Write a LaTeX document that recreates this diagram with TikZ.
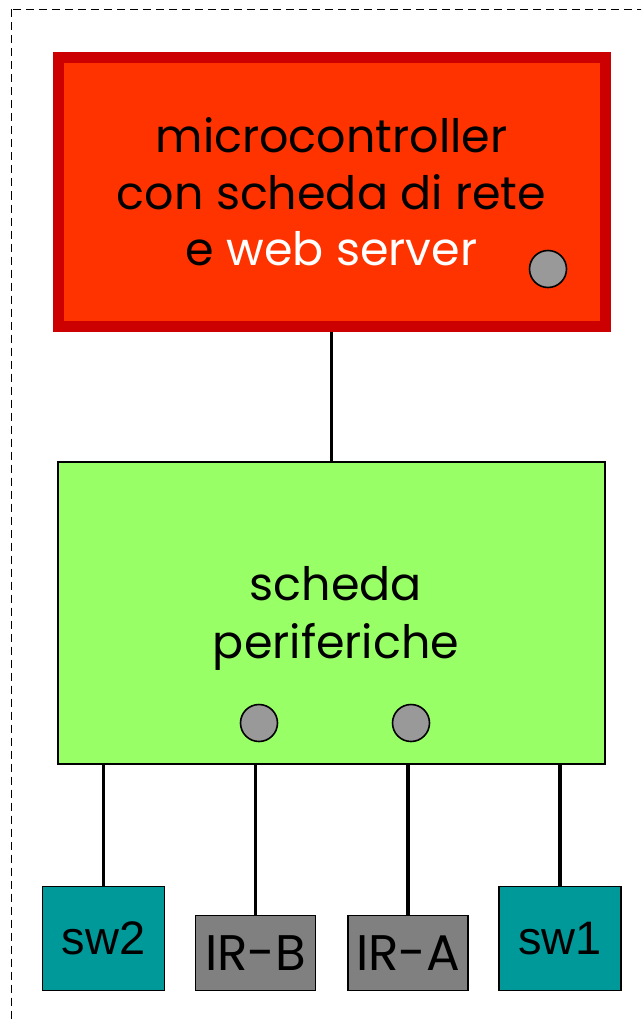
\documentclass[tikz,border=0pt]{standalone}
\usepackage{fontspec}
\setmainfont{Poppins}
\newfontfamily\swfont{Liberation Sans}
\usetikzlibrary{arrows}
\usetikzlibrary{calc}
\definecolor{mcred}{HTML}{FF3300}
\definecolor{mcborder}{HTML}{CC0000}
\definecolor{perigreen}{HTML}{99FF66}
\definecolor{swteal}{HTML}{009999}
\definecolor{irgray}{HTML}{808080}
\definecolor{ledgray}{HTML}{999999}

\begin{document}
\begin{tikzpicture}[x=1pt,y=-1pt,
	mcbox/.style={draw=mcborder,fill=mcred,line width=11pt,minimum width=547pt,minimum height=269pt,inner sep=0pt},
	peribox/.style={draw,fill=perigreen,line width=1.8pt,minimum width=547pt,minimum height=302pt,inner sep=0pt},
	swbox/.style={draw,fill=swteal,line width=1.8pt,minimum width=122pt,minimum height=104pt,inner sep=0pt,font=\swfont\fontsize{47}{47}\selectfont},
	irbox/.style={draw,fill=irgray,line width=1.8pt,minimum width=120pt,minimum height=75pt,inner sep=0pt,font=\fontsize{50}{50}\selectfont},
	led/.style={circle,draw,fill=ledgray,line width=1.6pt,minimum size=37pt,inner sep=0pt},
	wire/.style={line width=3.4pt}]
			\useasboundingbox(0,0)rectangle(641,1019);
			\clip(0,0)rectangle(641,1019);
			\draw[line width=1.3pt,dash pattern=on 8pt off 5pt](11.5,9.5)rectangle(700,1100);
			\node[mcbox,align=center,font=\fontsize{46}{56.5}\selectfont](mc)at(331.5,192){microcontroller\\con scheda di rete\\e \textcolor{white}{web server}};
			\node[peribox](peri)at(331.5,613){};
			\node[align=center,font=\fontsize{46}{58}\selectfont](peritxt)at(336,618){scheda\\periferiche};
			\node[led](ledmc)at(548,269){};
			\node[led](ledb)at(259,723){};
			\node[led](leda)at(411,723){};
			\node[swbox](sw2)at(103.5,938.5){sw2};
			\node[irbox](irb)at(255.5,953){IR-B};
			\node[irbox](ira)at(408,953){IR-A};
			\node[swbox](sw1)at(560,938.5){sw1};
			\draw[wire](mc.south)--(peri.north);
			\foreach \n in {sw2,irb,ira,sw1}
				\draw[wire](\n.north)--(\n.north|-peri.south);
		\end{tikzpicture}
\end{document}
